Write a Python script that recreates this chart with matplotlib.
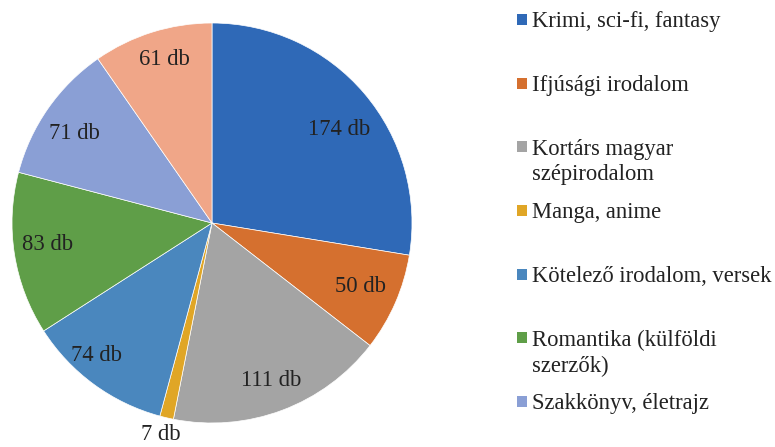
import matplotlib
matplotlib.use("Agg")
import matplotlib.pyplot as plt
import numpy as np
from matplotlib.patches import Rectangle

categories = ["Krimi, sci-fi, fantasy", "Ifjúsági irodalom", "Kortárs magyar\nszépirodalom",
              "Manga, anime", "Kötelező irodalom, versek", "Romantika (külföldi\nszerzők)",
              "Szakkönyv, életrajz", "Egyéb"]
values = [174, 50, 111, 7, 74, 83, 71, 61]
value_labels = ["174 db", "50 db", "111 db", "7 db", "74 db", "83 db", "71 db", "61 db"]
colors = ["#2F69B7", "#D5702F", "#A4A4A4", "#E0A626", "#4A87BE", "#5F9E48", "#8A9FD5", "#F0A688"]

plt.rcParams['font.family'] = ['Liberation Serif', 'DejaVu Serif']

W, H = 775, 447
fig = plt.figure(figsize=(W/100, H/100), dpi=100)
cx, cy, r = 212, 223, 200
ax = fig.add_axes([(cx - r)/W, (H - cy - r)/H, 2*r/W, 2*r/H])
wedges, _ = ax.pie(values, colors=colors, startangle=90, counterclock=False, radius=1,
                   wedgeprops=dict(edgecolor="white", linewidth=0.5))
ax.set_xlim(-1, 1)
ax.set_ylim(-1, 1)
ax.set_aspect('equal')
ax.axis('off')

label_r = [0.79, 0.81, 0.84, 1.09, 0.88, 0.83, 0.82, 0.85]
label_dang = [-4, 0.3, 0, -0.5, -5, -1.4, 1.9, -1]
for w, lab, lr, da in zip(wedges, value_labels, label_r, label_dang):
    ang = np.deg2rad((w.theta1 + w.theta2) / 2 + da)
    ax.text(lr*np.cos(ang), lr*np.sin(ang), lab, ha='center', va='center',
            fontsize=16.3, color='#222222', clip_on=False)

# legend (first 7 entries visible)
leg_base = [27, 91, 154, 218, 282, 345, 409]
for i, yb in enumerate(leg_base):
    fig.patches.append(Rectangle((517/W, 1 - (yb - 2)/H), 10/W, 11/H,
                                 transform=fig.transFigure, facecolor=colors[i], edgecolor='none'))
    fig.text(532/W, 1 - (yb - 15.5)/H, categories[i], ha='left', va='top', fontsize=16.3,
             color='#222222', linespacing=1.3)

fig.savefig("out.png", dpi=100)
